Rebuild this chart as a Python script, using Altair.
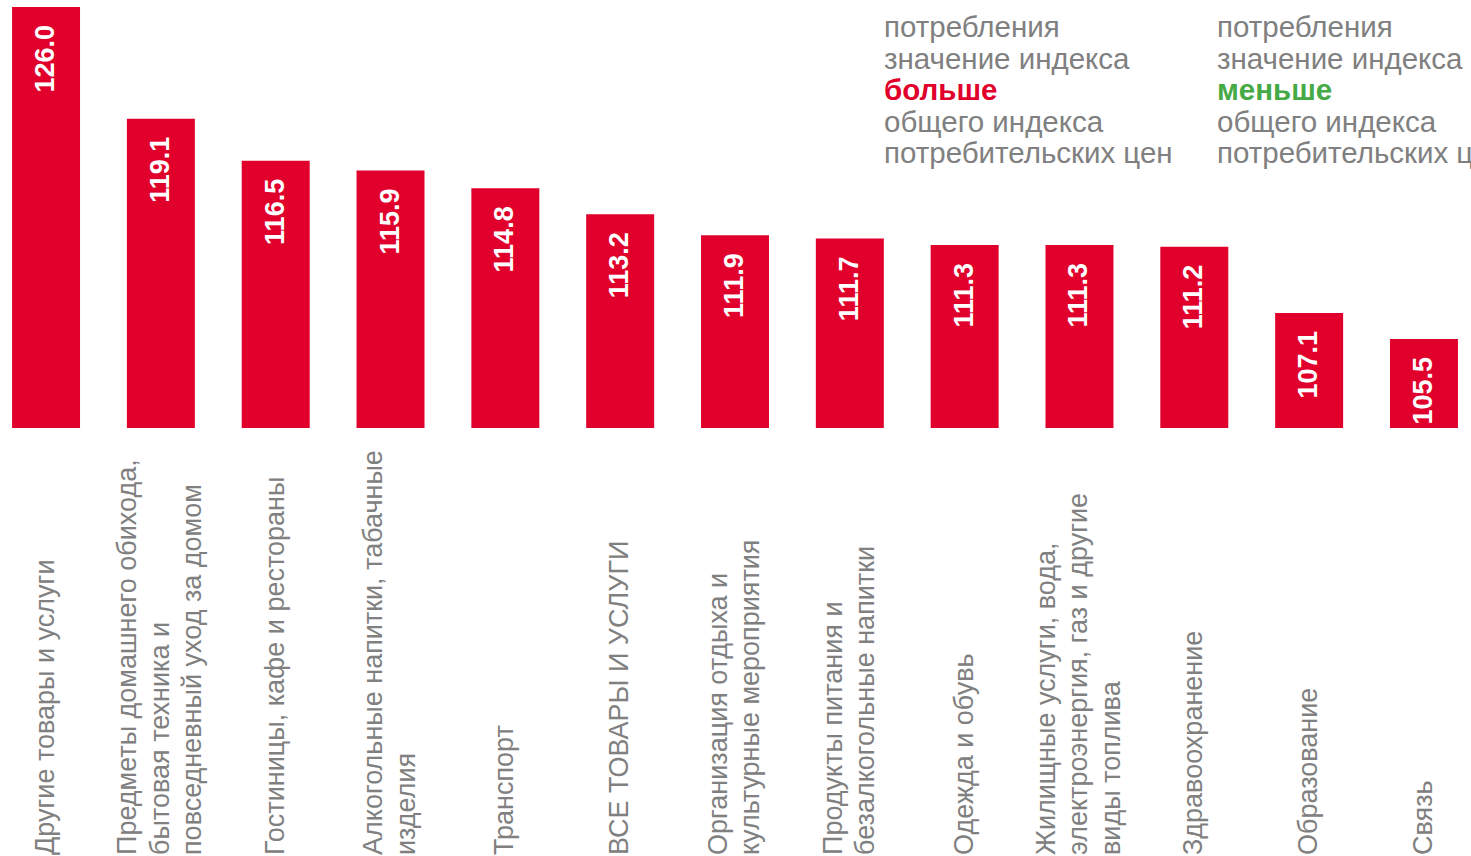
import altair as alt
import pandas as pd

# ---- data ----
categories = [
    "Другие товары и услуги",
    "Предметы домашнего обихода,\nбытовая техника и\nповседневный уход за  домом",
    "Гостиницы, кафе и рестораны",
    "Алкогольные напитки, табачные\nизделия",
    "Транспорт",
    "ВСЕ ТОВАРЫ И УСЛУГИ",
    "Организация отдыха и\nкультурные мероприятия",
    "Продукты питания и\nбезалкогольные напитки",
    "Одежда и обувь",
    "Жилищные услуги,  вода,\nэлектроэнергия,  газ и другие\nвиды топлива",
    "Здравоохранение",
    "Образование",
    "Связь",
]
values = [126.0, 119.1, 116.5, 115.9, 114.8, 113.2, 111.9, 111.7, 111.3, 111.3, 111.2, 107.1, 105.5]

legend_plain = ["потребления", "значение индекса", "общего индекса", "потребительских цен"]
legend_plain_rows = [0, 1, 3, 4]
legend_words = ["больше", "меньше"]
legend_word_colors = ["#E0002B", "#45AA45"]

RED = "#E0002B"
GRAY = "#808080"
FONT = "Liberation Sans"
LH = 32.5

df = pd.DataFrame({"cat": categories, "val": values})
df["lbl"] = [f"{v:.1f}" for v in values]

W, H = 1470, 421

x = alt.X("cat:N", sort=categories, axis=None,
          scale=alt.Scale(paddingInner=0.408, paddingOuter=0.105))
y_scale = alt.Scale(domain=[100, 126], zero=False, nice=False)

bars = alt.Chart(df).mark_bar(color=RED).encode(
    x=x,
    y=alt.Y("val:Q", scale=y_scale, axis=None),
    y2=alt.datum(100),
)

vals = alt.Chart(df).mark_text(
    angle=270, align="right", baseline="middle", dx=-18,
    color="white", font=FONT, fontSize=27, fontWeight="bold",
).encode(
    x=x,
    y=alt.Y("val:Q", scale=y_scale, axis=None),
    text="lbl:N",
)


def label_layer(n):
    return alt.Chart(df).transform_calculate(
        nl="split(datum.cat, '\\n').length"
    ).transform_filter(
        f"datum.nl == {n}"
    ).mark_text(
        angle=270, align="left", baseline="middle", lineBreak="\n",
        lineHeight=LH, color=GRAY, font=FONT, fontSize=27,
        dy=-(n - 1) / 2 * LH,
    ).encode(
        x=x,
        y=alt.value(848),
        text="cat:N",
    )


labels = [label_layer(n) for n in (1, 2, 3)]

# legend-like annotation text (top right)
rows = []
for col, x0 in enumerate([884, 1217]):
    for t, r in zip(legend_plain, legend_plain_rows):
        rows.append({"t": t, "px": x0, "row": r, "c": GRAY})
leg_plain_df = pd.DataFrame(rows)
leg_bold_df = pd.DataFrame({
    "t": legend_words,
    "px": [884, 1217],
    "row": [2, 2],
    "c": legend_word_colors,
})

leg_plain = alt.Chart(leg_plain_df).transform_calculate(
    py="21 + datum.row * 31.6"
).mark_text(align="left", baseline="middle", font=FONT, fontSize=29.5).encode(
    x=alt.X("px:Q", scale=None),
    y=alt.Y("py:Q", scale=None),
    text="t:N",
    color=alt.Color("c:N", scale=None),
)
leg_bold = alt.Chart(leg_bold_df).transform_calculate(
    py="21 + datum.row * 31.6"
).mark_text(align="left", baseline="middle", font=FONT, fontSize=29.5, fontWeight="bold").encode(
    x=alt.X("px:Q", scale=None),
    y=alt.Y("py:Q", scale=None),
    text="t:N",
    color=alt.Color("c:N", scale=None),
)

chart = alt.layer(bars, vals, *labels, leg_plain, leg_bold).resolve_scale(
    x="shared"
).properties(
    width=W, height=H,
    autosize=alt.AutoSizeParams(type="none"),
    padding={"left": 0, "top": 7, "right": 1, "bottom": 428},
    background="white",
).configure_view(stroke=None)

chart.save("out.html", embed_options={"renderer": "svg", "actions": False})
